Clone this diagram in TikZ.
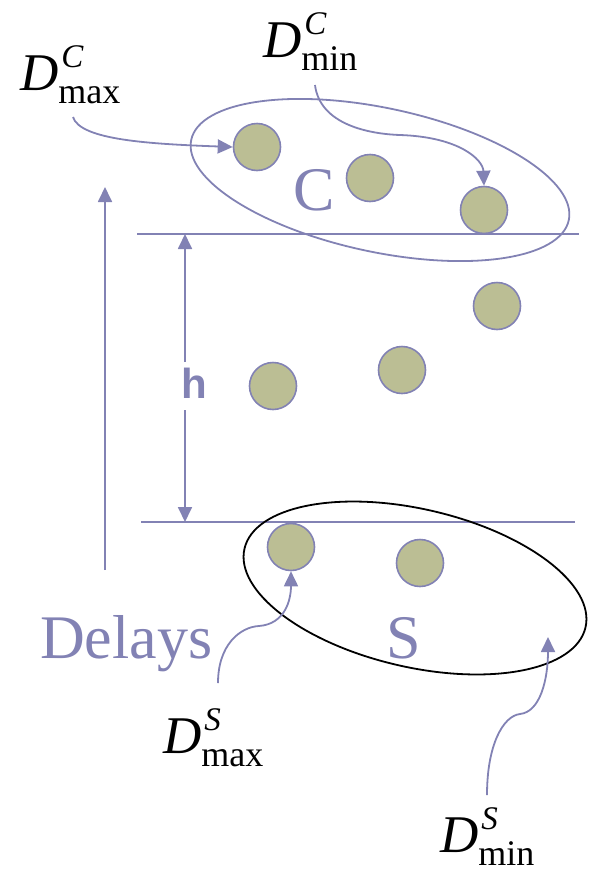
\documentclass[tikz,border=0pt]{standalone}
\usepackage{fontspec}
\setmainfont{Liberation Serif}
\newfontfamily\hsans{Liberation Sans}
\usetikzlibrary{arrows.meta}
\definecolor{lav}{RGB}{130,130,180}
\definecolor{ballfill}{RGB}{187,190,148}
\newcommand\DLab[2]{{\fontsize{53}{53}\selectfont\itshape D}\rlap{\kern3pt\raisebox{23pt}{\fontsize{33}{33}\selectfont\itshape #1}}\raisebox{-13pt}{\fontsize{36}{36}\selectfont #2}}
\begin{document}
\begin{tikzpicture}[x=1pt,y=-1pt,
  ln/.style={draw=lav,line width=1.8pt},
  arr/.style={ln,-{Triangle[width=14pt,length=15pt]}},
  bead/.style={circle,draw=lav,line width=1.6pt,fill=ballfill,minimum size=47pt,inner sep=0pt},
  big/.style={text=lav,font=\fontsize{62}{62}\selectfont,inner sep=0pt,anchor=base west},
  dl/.style={inner sep=0pt,anchor=base west}]
\useasboundingbox (0,0) rectangle (594,873);
% horizontal lines
\coordinate (l1a) at (137,234); \coordinate (l1b) at (579,234);
\coordinate (l2a) at (141,522); \coordinate (l2b) at (575,522);
\draw[ln] (l1a) -- (l1b);
\draw[ln] (l2a) -- (l2b);
% ellipses
\draw[ln, rotate around={-12:(380,180)}] (380,180) ellipse [x radius=193pt, y radius=72pt];
\draw[line width=1.8pt, black, rotate around={-13:(415,588)}] (415,588) ellipse [x radius=175pt, y radius=79pt];
% balls
\node[bead] (c1) at (257,147) {};
\node[bead] (c2) at (370,178) {};
\node[bead] (c3) at (484,210) {};
\node[bead] (m1) at (273,386) {};
\node[bead] (m2) at (402,370) {};
\node[bead] (m3) at (497,306) {};
\node[bead] (s1) at (291,547) {};
\node[bead] (s2) at (420,563) {};
% big labels
\node[big] (lc) at (293,210) {C};
\node[big] (ls) at (386,658) {S};
\node[big] (ldelays) at (40,658) {Delays};
% D labels
\node[dl] (dcmax) at (20,90) {\DLab{C}{max}};
\node[dl] (dcmin) at (263,57) {\DLab{C}{min}};
\node[dl] (dsmax) at (163,753) {\DLab{S}{max}};
\node[dl] (dsmin) at (440,852) {\DLab{S}{min}};
% delays arrow
\coordinate (dl0) at (105,570); \coordinate (dl1) at (105,187);
\draw[arr] (dl0) -- (dl1);
% h arrow
\node[text=lav,font=\hsans\bfseries\fontsize{42}{42}\selectfont,inner sep=0pt,anchor=base] (h) at (194,398) {h};
\coordinate (ht) at (185,234); \coordinate (hb) at (185,522);
\coordinate (hg1) at (185,362); \coordinate (hg2) at (185,410);
\draw[arr] (hg1) -- (ht);
\draw[arr] (hg2) -- (hb);
% label arrows
\coordinate (dcmaxs) at (73,117);
\draw[arr] (dcmaxs) .. controls (80,140) and (150,144) .. (c1.west);
\coordinate (dcmins) at (315,85); \coordinate (dcmink) at (400,135);
\draw[arr] (dcmins) .. controls (320,125) and (370,134) .. (dcmink) .. controls (460,137) and (483,160) .. (c3.north);
\coordinate (dsmaxs) at (218,683); \coordinate (dsmaxk) at (259,626);
\draw[arr] (dsmaxs) .. controls (218,645) and (240,627) .. (dsmaxk) .. controls (285,624) and (291,600) .. (s1.south);
\coordinate (dsmins) at (487,795); \coordinate (dsmink) at (520,714); \coordinate (dsmint) at (548,637);
\draw[arr] (dsmins) .. controls (487,745) and (503,716) .. (dsmink) .. controls (540,712) and (548,680) .. (dsmint);
\end{tikzpicture}
\end{document}
